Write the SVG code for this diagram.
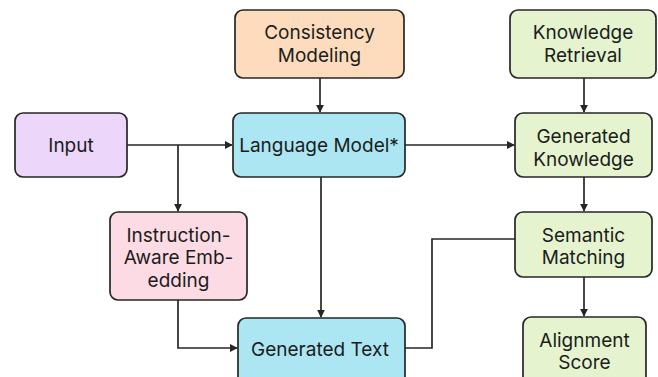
<svg xmlns="http://www.w3.org/2000/svg" width="658" height="377" viewBox="0 0 658 377">
  <style>
    .box { stroke: #262626; stroke-width: 1.7; }
    .lbl { font-family: Inter, "Liberation Sans", sans-serif; font-size: 19px; fill: #1c1c1c; text-anchor: middle; dominant-baseline: central; }
    .wire { fill: none; stroke: #262626; stroke-width: 1.7; }
    .peach { fill: #fcdcbd; }
    .lilac { fill: #ecd6fa; }
    .cyan { fill: #abe6f2; }
    .green { fill: #e5f4cf; }
    .pink { fill: #fcdbe4; }
  </style>
  <defs>
    <marker id="arrow" viewBox="0 0 10 10" refX="9" refY="5" markerWidth="8" markerHeight="8" markerUnits="userSpaceOnUse" orient="auto">
      <path d="M0,0 L10,5 L0,10 z" fill="#262626"/>
    </marker>
  </defs>
  <rect width="658" height="377" fill="#ffffff"/>

  <g id="connectors">
    <path class="wire" d="M127,145 H232" marker-end="url(#arrow)"/>
    <path class="wire" d="M178,145 V211" marker-end="url(#arrow)"/>
    <path class="wire" d="M178,300 V348 H237" marker-end="url(#arrow)"/>
    <path class="wire" d="M320,78 V112" marker-end="url(#arrow)"/>
    <path class="wire" d="M321,177 V317" marker-end="url(#arrow)"/>
    <path class="wire" d="M405,145 H514" marker-end="url(#arrow)"/>
    <path class="wire" d="M584,78 V112" marker-end="url(#arrow)"/>
    <path class="wire" d="M584,177 V211" marker-end="url(#arrow)"/>
    <path class="wire" d="M405,348 H432 V239 H515"/>
    <path class="wire" d="M584,277 V316" marker-end="url(#arrow)"/>
  </g>

  <g id="consistency-modeling">
    <rect class="box peach" x="235" y="10" width="169" height="68" rx="8"/>
    <text class="lbl" x="319.5" y="32">Consistency</text>
    <text class="lbl" x="319.5" y="55">Modeling</text>
  </g>

  <g id="knowledge-retrieval">
    <rect class="box green" x="510" y="10" width="146" height="68" rx="8"/>
    <text class="lbl" x="583" y="32">Knowledge</text>
    <text class="lbl" x="583" y="55">Retrieval</text>
  </g>

  <g id="input">
    <rect class="box lilac" x="15" y="113" width="112" height="64" rx="8"/>
    <text class="lbl" x="71" y="145">Input</text>
  </g>

  <g id="language-model">
    <rect class="box cyan" x="233" y="113" width="172" height="64" rx="8"/>
    <text class="lbl" x="319" y="145">Language Model*</text>
  </g>

  <g id="generated-knowledge">
    <rect class="box green" x="515" y="113" width="137" height="64" rx="8"/>
    <text class="lbl" x="583.5" y="136">Generated</text>
    <text class="lbl" x="583.5" y="159">Knowledge</text>
  </g>

  <g id="instruction-aware-embedding">
    <rect class="box pink" x="110" y="212" width="137" height="88" rx="8"/>
    <text class="lbl" x="178.5" y="235">Instruction-</text>
    <text class="lbl" x="178.5" y="257.5">Aware Emb-</text>
    <text class="lbl" x="178.5" y="280">edding</text>
  </g>

  <g id="semantic-matching">
    <rect class="box green" x="515" y="212" width="137" height="65" rx="8"/>
    <text class="lbl" x="583.5" y="235">Semantic</text>
    <text class="lbl" x="583.5" y="257">Matching</text>
  </g>

  <g id="generated-text">
    <rect class="box cyan" x="238" y="318" width="167" height="70" rx="8"/>
    <text class="lbl" x="320" y="349">Generated Text</text>
  </g>

  <g id="alignment-score">
    <rect class="box green" x="523" y="317" width="123" height="70" rx="8"/>
    <text class="lbl" x="584.5" y="340">Alignment</text>
    <text class="lbl" x="584.5" y="362">Score</text>
  </g>
</svg>
